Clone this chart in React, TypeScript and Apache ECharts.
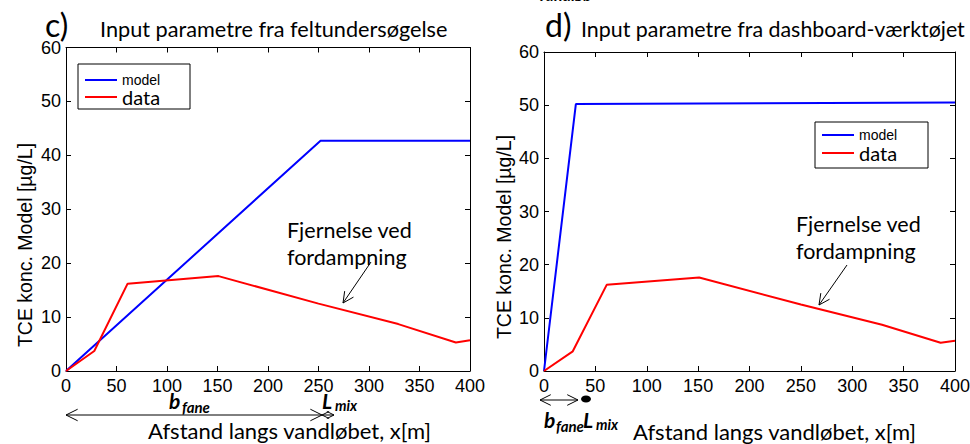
import React, { useEffect, useRef } from "react";
import * as echarts from "echarts";

// ---- data (x in m, y in µg/L) ----
const modelField: [number, number][] = [[0, 0], [252, 42.7], [400, 42.7]];
const modelDashboard: [number, number][] = [[0, 0], [31, 50.2], [400, 50.5]];
const measured: [number, number][] = [
  [0, 0], [28, 3.7], [61, 16.2], [151, 17.6], [250, 12.5], [329, 8.7], [386, 5.3], [400, 5.7],
];
const xMin = 0, xMax = 400, xStep = 50;
const yMin = 0, yMax = 60, yStep = 10;
const panelTitles = ["Input parametre fra feltundersøgelse", "Input parametre fra dashboard-værktøjet"];
const panelLetters = ["c)", "d)"];
const yName = "TCE konc. Model [µg/L]";
const xName = "Afstand langs vandløbet, x[m]";
const annotation = "Fjernelse ved\nfordampning";

const BLUE = "#0000ff";
const RED = "#ff0000";
const AX = "Liberation Sans, Arial, sans-serif";
const CAL = "Lato, sans-serif";

function head(x1: number, y1: number, x2: number, y2: number, len: number, ang = 0.46) {
  const a = Math.atan2(y1 - y2, x1 - x2);
  return {
    type: "polyline",
    shape: {
      points: [
        [x2 + len * Math.cos(a + ang), y2 + len * Math.sin(a + ang)],
        [x2, y2],
        [x2 + len * Math.cos(a - ang), y2 + len * Math.sin(a - ang)],
      ],
    },
    style: { stroke: "#000", lineWidth: 1, fill: null },
    silent: true,
  };
}
function seg(x1: number, y1: number, x2: number, y2: number) {
  return { type: "line", shape: { x1, y1, x2, y2 }, style: { stroke: "#000", lineWidth: 1 }, silent: true };
}
function box(x: number, y: number, width: number, height: number) {
  return {
    type: "rect", shape: { x, y, width, height }, z: 100,
    style: { stroke: "#000", lineWidth: 1, fill: null }, silent: true,
  };
}
function txt(x: number, y: number, text: string, font: string, size: number, extra: any = {}) {
  return {
    type: "text",
    x,
    y,
    silent: true,
    style: { text, fontFamily: font, fontSize: size, fill: "#000", align: "left", verticalAlign: "middle", ...extra },
  };
}

export default function App() {
  const ref = useRef<HTMLDivElement>(null);
  useEffect(() => {
    document.body.style.margin = "0";
    const chart = echarts.init(ref.current!, null, { renderer: "svg" });
    const grids = [
      { left: 66, top: 47.5, width: 404, height: 323.5 },
      { left: 544, top: 52, width: 411, height: 319 },
    ];
    const xAxes: any[] = [];
    const yAxes: any[] = [];
    grids.forEach((_, gi) => {
      for (const pos of ["bottom", "top"]) {
        xAxes.push({
          type: "value", gridIndex: gi, position: pos, min: xMin, max: xMax, interval: xStep,
          axisLine: { show: true, onZero: false, lineStyle: { color: "#000", width: 1 } },
          axisTick: { show: true, inside: true, length: 5, lineStyle: { color: "#000" } },
          axisLabel: { show: pos === "bottom", margin: 6, color: "#000", fontFamily: AX, fontSize: 18, showMinLabel: true, showMaxLabel: true },
          splitLine: { show: false },
        });
      }
      for (const pos of ["left", "right"]) {
        yAxes.push({
          type: "value", gridIndex: gi, position: pos, min: yMin, max: yMax, interval: yStep,
          axisLine: { show: true, onZero: false, lineStyle: { color: "#000", width: 1 } },
          axisTick: { show: true, inside: true, length: 5, lineStyle: { color: "#000" } },
          axisLabel: { show: pos === "left", margin: 5, color: "#000", fontFamily: AX, fontSize: 18 },
          splitLine: { show: false },
        });
      }
    });
    const mk = (name: string, data: any, gi: number, color: string) => ({
      type: "line", name, data, xAxisIndex: gi * 2, yAxisIndex: gi * 2, symbol: "none",
      color, lineStyle: { color, width: 2 }, silent: true,
    });
    const legendBase = {
      orient: "vertical", data: ["model", "data"], icon: "rect", itemWidth: 32, itemHeight: 2, itemGap: 0,
      selectedMode: false,
      formatter: (n: string) => (n === "model" ? "{m|model}" : "{d|data}"),
      textStyle: {
        rich: {
          m: { fontFamily: AX, fontSize: 14, lineHeight: 19, color: "#000" },
          d: { fontFamily: CAL, fontSize: 20, lineHeight: 19, color: "#000" },
        },
      },
    };
    const bold = { fontWeight: "bold", fontStyle: "italic" };
    const graphic: any[] = [
      txt(538, -5.5, "vandløb", CAL, 16, bold),
      // titles
      txt(45, 24, panelLetters[0], CAL, 32),
      txt(100, 29, panelTitles[0], CAL, 21.7),
      txt(545, 24, panelLetters[1], CAL, 32),
      txt(581, 29, panelTitles[1], CAL, 21.4),
      // y axis names
      { ...txt(25, 245, yName, AX, 19.5, { align: "center" }), rotation: Math.PI / 2 },
      { ...txt(504, 237, yName, AX, 19.5, { align: "center" }), rotation: Math.PI / 2 },
      // legend boxes
      box(78, 64, 112, 45),
      box(815, 122, 113, 46),
      // annotations
      txt(287, 216, annotation, CAL, 21.5, { lineHeight: 27, verticalAlign: "top" }),
      seg(371, 262, 343, 303), head(371, 262, 343, 303, 12),
      txt(796, 210, annotation, CAL, 21.5, { lineHeight: 27, verticalAlign: "top" }),
      seg(847, 265, 819, 305), head(847, 265, 819, 305, 12),
      // x axis titles
      txt(148, 430, xName, CAL, 22),
      txt(633, 431, xName, CAL, 22),
      // left b_fane / L_mix markers
      seg(66, 415, 322, 415), head(322, 415, 66, 415, 13), head(66, 415, 322, 415, 13),
      seg(322, 415, 334, 415), head(334, 415, 322, 415, 8), head(322, 415, 334, 415, 8),
      txt(169, 400, "b", CAL, 21, bold),
      txt(182, 407, "fane", CAL, 15, bold),
      txt(322, 400, "L", CAL, 21, bold),
      txt(335, 405, "mix", CAL, 14.5, bold),
      // right b_fane / L_mix markers
      seg(540, 400, 578, 400), head(578, 400, 540, 400, 12), head(540, 400, 578, 400, 12),
      { type: "ellipse", shape: { cx: 586, cy: 399, rx: 5, ry: 3.5 }, style: { fill: "#000" }, silent: true },
      txt(544, 419, "b", CAL, 21, bold),
      txt(556, 426, "fane", CAL, 15, bold),
      txt(583, 419, "L", CAL, 21, bold),
      txt(596, 424, "mix", CAL, 14.5, bold),
    ];
    chart.setOption({
      animation: false,
      backgroundColor: "#fff",
      grid: grids.map((g) => ({ ...g, containLabel: false, outerBoundsMode: "none" })),
      xAxis: xAxes,
      yAxis: yAxes,
      legend: [
        { ...legendBase, left: 79, top: 65, padding: [8, 0, 0, 6] },
        { ...legendBase, left: 816, top: 123, padding: [5, 0, 0, 6], itemGap: 1 },
      ],
      series: [
        mk("model", modelField, 0, BLUE),
        mk("data", measured, 0, RED),
        mk("model", modelDashboard, 1, BLUE),
        mk("data", measured, 1, RED),
      ],
      graphic,
    });
    return () => chart.dispose();
  }, []);
  return <div ref={ref} style={{ width: 970, height: 444 }} />;
}
